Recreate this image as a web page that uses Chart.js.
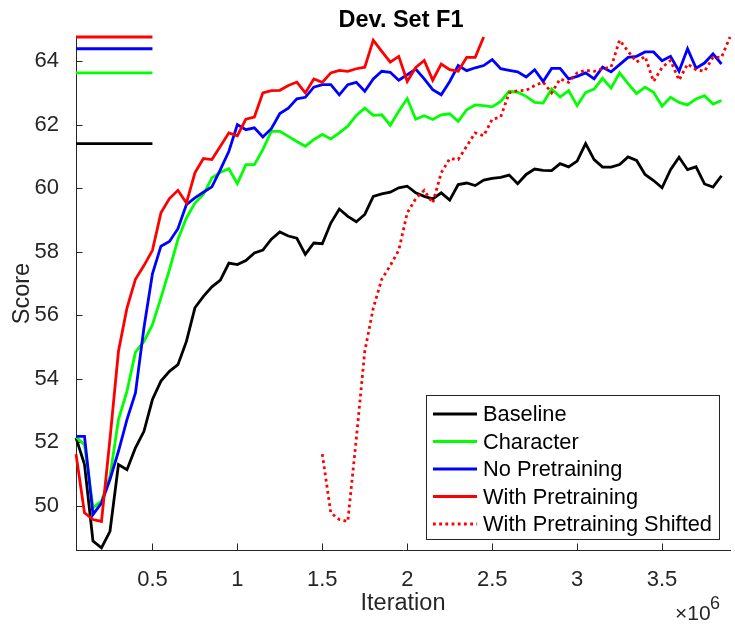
<!DOCTYPE html>
<html>
<head>
<meta charset="utf-8">
<script src="https://cdn.jsdelivr.net/npm/chart.js@4.4.1/dist/chart.umd.min.js"></script>
<style>
html,body{margin:0;padding:0;background:#ffffff;}
canvas{display:block;}
</style>
</head>
<body>
<canvas id="chart" width="735" height="627"></canvas>
<script>
// Iterations, in units of 10^6
const iterationsM = [
  0.05,0.10,0.15,0.20,0.25,0.30,0.35,0.40,0.45,0.50,
  0.55,0.60,0.65,0.70,0.75,0.80,0.85,0.90,0.95,1.00,
  1.05,1.10,1.15,1.20,1.25,1.30,1.35,1.40,1.45,1.50,
  1.55,1.60,1.65,1.70,1.75,1.80,1.85,1.90,1.95,2.00,
  2.05,2.10,2.15,2.20,2.25,2.30,2.35,2.40,2.45,2.50,
  2.55,2.60,2.65,2.70,2.75,2.80,2.85,2.90,2.95,3.00,
  3.05,3.10,3.15,3.20,3.25,3.30,3.35,3.40,3.45,3.50,
  3.55,3.60,3.65,3.70,3.75,3.80,3.85
];

const baseline = [
  52.13,51.30,48.88,48.67,49.19,51.29,51.13,51.82,52.34,53.34,
  53.92,54.23,54.44,55.17,56.23,56.59,56.89,57.10,57.64,57.59,
  57.72,57.96,58.05,58.39,58.62,58.49,58.42,57.91,58.27,58.25,
  58.90,59.34,59.11,58.94,59.17,59.74,59.82,59.87,60.01,60.06,
  59.85,59.74,59.66,59.85,59.62,60.11,60.16,60.08,60.25,60.31,
  60.34,60.41,60.14,60.43,60.60,60.56,60.55,60.77,60.67,60.85,
  61.40,60.90,60.66,60.66,60.74,60.98,60.87,60.43,60.24,60.01,
  60.58,60.97,60.58,60.67,60.13,60.03,60.39
];

const character = [
  52.16,51.92,49.93,50.14,50.92,52.71,53.60,54.83,55.17,55.70,
  56.54,57.43,58.38,59.06,59.53,59.80,60.32,60.50,60.61,60.14,
  60.74,60.74,61.21,61.79,61.79,61.63,61.47,61.32,61.53,61.69,
  61.55,61.74,61.95,62.29,62.52,62.29,62.31,61.98,62.42,62.82,
  62.17,62.28,62.16,62.31,62.34,62.10,62.47,62.62,62.60,62.56,
  62.73,63.05,63.02,62.89,62.70,62.68,63.12,62.87,63.07,62.60,
  63.01,63.12,63.46,63.15,63.63,63.29,62.98,63.18,63.02,62.58,
  62.86,62.70,62.62,62.81,62.91,62.65,62.76
];

const noPretraining = [
  52.18,52.18,49.72,50.08,50.82,51.71,52.71,53.55,55.60,57.30,
  58.17,58.32,58.72,59.48,59.69,59.87,60.04,60.58,61.16,62.00,
  61.84,61.90,61.61,61.87,62.35,62.52,62.81,62.86,63.18,63.26,
  63.26,62.94,63.26,63.33,63.05,63.44,63.68,63.65,63.40,63.57,
  63.75,63.44,63.10,62.94,63.36,63.86,63.70,63.79,63.86,64.05,
  63.76,63.71,63.66,63.50,63.73,63.36,63.77,63.77,63.44,63.52,
  63.63,63.44,63.81,63.66,63.89,64.12,64.15,64.29,64.29,64.01,
  64.15,63.68,64.39,63.78,63.94,64.23,63.91
];

const withPretraining = [
  51.62,49.77,49.56,49.50,52.10,54.86,56.22,57.13,57.56,58.04,
  59.22,59.67,59.93,59.53,60.48,60.93,60.90,61.32,61.74,61.65,
  62.17,62.24,63.00,63.07,63.08,63.23,63.34,63.00,63.44,63.33,
  63.63,63.71,63.68,63.76,63.81,64.66,64.31,63.97,64.15,63.36,
  63.80,64.02,63.40,63.91,63.73,63.68,64.12,64.12,64.76
];

// The "shifted" curve is the With Pretraining run moved right by this many (x10^6) iterations
const shiftM = 1.45;

// Best-score marker lines span this x range (x10^6)
const bestLineRange = [0.05, 0.50];

const xTicks = [0.5, 1, 1.5, 2, 2.5, 3, 3.5];
const yTicks = [50, 52, 54, 56, 58, 60, 62, 64];
const xRange = [0.05, 3.90];
const yRange = [48.6, 64.76];

const seriesNames = ['Baseline', 'Character', 'No Pretraining', 'With Pretraining', 'With Pretraining Shifted'];
const seriesColors = ['#000000', '#00ff00', '#0000ff', '#ff0000', '#ff0000'];
const seriesValues = [baseline, character, noPretraining, withPretraining];

const FONT = '"Liberation Sans", Arial, Helvetica, sans-serif';
const AXIS_COLOR = '#262626';
const LINE_W = 2.8;
const DOT_DASH = [2.8, 3.4];

function toPoints(xs, ys, dx) {
  return ys.map((v, i) => ({ x: xs[i] + (dx || 0), y: v }));
}

const datasets = [];
seriesValues.forEach((vals, i) => {
  datasets.push({
    label: seriesNames[i],
    data: toPoints(iterationsM, vals),
    borderColor: seriesColors[i],
    borderWidth: LINE_W,
    pointRadius: 0,
    tension: 0,
    fill: false,
    clip: false,
    order: 10 - i
  });
});
datasets.push({
  label: seriesNames[4],
  data: toPoints(iterationsM, withPretraining, shiftM),
  borderColor: seriesColors[4],
  borderWidth: LINE_W,
  borderDash: DOT_DASH,
  borderCapStyle: 'butt',
  pointRadius: 0,
  tension: 0,
  fill: false,
  clip: false,
  order: 5
});
// Best-score marker lines (maximum of each run)
seriesValues.forEach((vals, i) => {
  const best = Math.max.apply(null, vals);
  datasets.push({
    label: '_best_' + seriesNames[i],
    data: [{ x: bestLineRange[0], y: best }, { x: bestLineRange[1], y: best }],
    borderColor: seriesColors[i],
    borderWidth: LINE_W,
    pointRadius: 0,
    fill: false,
    clip: false,
    order: 10 - i
  });
});

const matlabPlugin = {
  id: 'matlabStyle',
  beforeDatasetsDraw(chart) {
    const { ctx, chartArea: a, scales: { x, y } } = chart;
    const len = 6.5;
    ctx.save();
    ctx.strokeStyle = AXIS_COLOR;
    ctx.lineWidth = 1;
    ctx.beginPath();
    yTicks.forEach(v => {
      const py = Math.round(y.getPixelForValue(v)) + 0.5;
      ctx.moveTo(a.left, py);
      ctx.lineTo(a.left + len, py);
    });
    xTicks.forEach(v => {
      const px = Math.round(x.getPixelForValue(v)) + 0.5;
      ctx.moveTo(px, a.bottom);
      ctx.lineTo(px, a.bottom - len);
    });
    ctx.stroke();
    ctx.restore();
  },
  afterDatasetsDraw(chart) {
    const { ctx } = chart;
    // Legend box
    const box = { x: 426.5, y: 395.5, w: 293, h: 144 };
    const rowY0 = 414, rowStep = 27.5;
    ctx.save();
    ctx.fillStyle = '#ffffff';
    ctx.fillRect(box.x, box.y, box.w, box.h);
    ctx.strokeStyle = AXIS_COLOR;
    ctx.lineWidth = 1;
    ctx.strokeRect(box.x, box.y, box.w, box.h);
    seriesNames.forEach((name, i) => {
      const ry = rowY0 + i * rowStep;
      ctx.beginPath();
      ctx.strokeStyle = seriesColors[i];
      ctx.lineWidth = LINE_W;
      ctx.setLineDash(i === 4 ? DOT_DASH : []);
      ctx.lineCap = 'butt';
      ctx.moveTo(433, ry);
      ctx.lineTo(477, ry);
      ctx.stroke();
      ctx.setLineDash([]);
      ctx.fillStyle = '#000000';
      ctx.font = '21.8px ' + FONT;
      ctx.textAlign = 'left';
      ctx.textBaseline = 'middle';
      ctx.fillText(name, 483, ry + 1);
    });
    ctx.restore();
  },
  afterDraw(chart) {
    const { ctx, chartArea: a } = chart;
    ctx.save();
    // Title
    ctx.fillStyle = '#000000';
    ctx.font = 'bold 23.5px ' + FONT;
    ctx.textAlign = 'center';
    ctx.textBaseline = 'alphabetic';
    ctx.fillText('Dev. Set F1', (a.left + a.right) / 2 - 2, 27);
    // exponent label
    ctx.fillStyle = AXIS_COLOR;
    ctx.font = '21px ' + FONT;
    ctx.textAlign = 'left';
    ctx.fillText('\u00d710', 675, 620);
    ctx.font = '18px ' + FONT;
    ctx.fillText('6', 710, 609);
    ctx.restore();
  }
};

new Chart(document.getElementById('chart'), {
  type: 'line',
  data: { datasets },
  options: {
    responsive: false,
    animation: false,
    devicePixelRatio: 1,
    layout: { padding: { top: 37, right: 5, bottom: 0, left: 0 } },
    plugins: {
      legend: { display: false },
      tooltip: { enabled: false },
      title: { display: false }
    },
    scales: {
      x: {
        type: 'linear',
        min: xRange[0],
        max: xRange[1],
        afterBuildTicks: s => { s.ticks = xTicks.map(v => ({ value: v })); },
        afterFit: s => { s.height = 77; },
        grid: { display: false },
        border: { display: true, color: AXIS_COLOR, width: 1 },
        ticks: {
          autoSkip: false,
          maxRotation: 0,
          padding: 9,
          color: AXIS_COLOR,
          font: { family: FONT, size: 22 },
          callback: v => String(v)
        },
        title: {
          display: true,
          text: 'Iteration',
          color: AXIS_COLOR,
          font: { family: FONT, size: 23.5 },
          padding: { top: 0, bottom: 9 }
        }
      },
      y: {
        type: 'linear',
        min: yRange[0],
        max: yRange[1],
        afterBuildTicks: s => { s.ticks = yTicks.map(v => ({ value: v })); },
        afterFit: s => { s.width = 76; },
        grid: { display: false },
        border: { display: true, color: AXIS_COLOR, width: 1 },
        ticks: {
          autoSkip: false,
          padding: 9,
          color: AXIS_COLOR,
          font: { family: FONT, size: 22 },
          callback: v => String(v)
        },
        title: {
          display: true,
          text: 'Score',
          color: AXIS_COLOR,
          font: { family: FONT, size: 23.5 },
          padding: { top: 8, bottom: 0 }
        }
      }
    }
  },
  plugins: [matlabPlugin]
});
</script>
</body>
</html>
